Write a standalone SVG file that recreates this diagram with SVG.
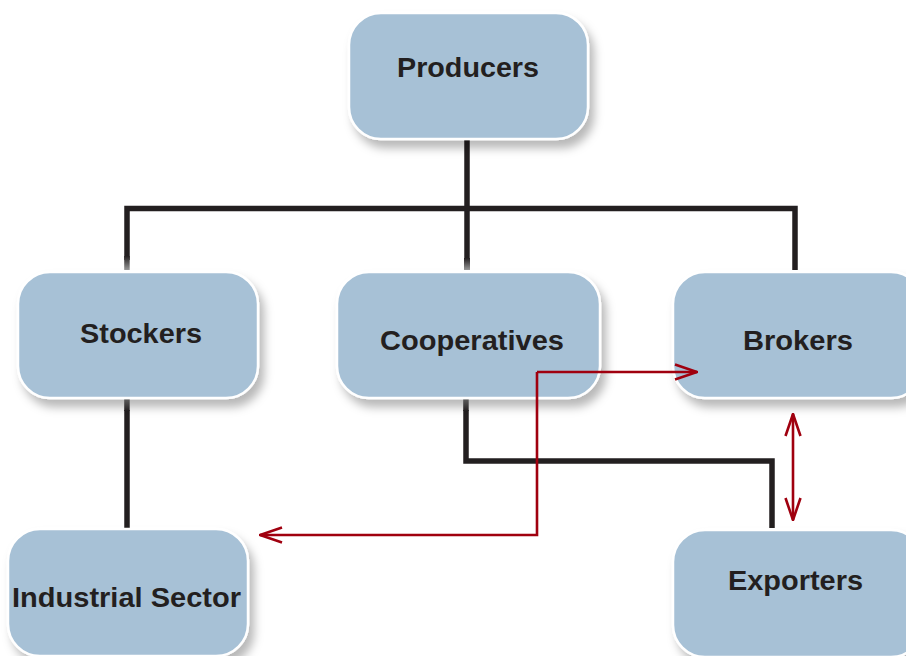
<svg xmlns="http://www.w3.org/2000/svg" width="906" height="656" viewBox="0 0 906 656">
  <defs>
    <filter id="shadow" x="-10%" y="-10%" width="130%" height="140%">
      <feDropShadow dx="5" dy="8" stdDeviation="5" flood-color="#000" flood-opacity="0.28"/>
    </filter>
    <marker id="open" viewBox="0 0 24 18" refX="23" refY="9" markerWidth="24" markerHeight="18" markerUnits="userSpaceOnUse" orient="auto-start-reverse">
      <path d="M1,1.5 L23,9 L1,16.5" fill="none" stroke="#a0000f" stroke-width="2.6"/>
    </marker>
    <linearGradient id="fadeDown" x1="0" y1="0" x2="0" y2="1">
      <stop offset="0" stop-color="#231f20"/>
      <stop offset="1" stop-color="#999"/>
    </linearGradient>
    <linearGradient id="fadeUp" x1="0" y1="1" x2="0" y2="0">
      <stop offset="0" stop-color="#231f20"/>
      <stop offset="1" stop-color="#888"/>
    </linearGradient>
  </defs>
  <style>
    .box { fill: #a7c1d6; stroke: #ffffff; stroke-width: 2.5; filter: url(#shadow); }
    .lbl { font-family: "Liberation Sans", Arial, Helvetica, sans-serif; font-weight: bold; font-size: 28px; fill: #231f20; }
    .blk { fill: none; stroke: #231f20; stroke-width: 5.5; stroke-linejoin: miter; stroke-linecap: butt; }
    .red { fill: none; stroke: #a0000f; stroke-width: 2.6; stroke-linejoin: miter; }
  </style>
  <rect width="906" height="656" fill="#ffffff"/>

  <g id="connectors">
    <path class="blk" d="M467,139 V260"/>
    <path class="blk" d="M127,260 V208.5 H795 V270"/>
    <rect x="464" y="258" width="6" height="12" fill="url(#fadeDown)"/>
    <rect x="124.2" y="256" width="5.5" height="14" fill="url(#fadeDown)"/>
    <path class="blk" d="M127,410 V528"/>
    <rect x="124.2" y="398" width="5.5" height="13" fill="url(#fadeUp)"/>
    <path class="blk" d="M466,410 V461 H772 V528"/>
    <rect x="463.2" y="398" width="5.5" height="13" fill="url(#fadeUp)"/>
  </g>

  <g id="producers">
    <rect class="box" x="349" y="13" width="239" height="126" rx="32"/>
    <text class="lbl" x="397" y="77" textLength="142" lengthAdjust="spacingAndGlyphs">Producers</text>
  </g>
  <g id="stockers">
    <rect class="box" x="18" y="272" width="240" height="126" rx="32"/>
    <text class="lbl" x="80" y="343" textLength="122" lengthAdjust="spacingAndGlyphs">Stockers</text>
  </g>
  <g id="cooperatives">
    <rect class="box" x="337" y="272" width="263" height="126" rx="32"/>
    <text class="lbl" x="380" y="350" textLength="184" lengthAdjust="spacingAndGlyphs">Cooperatives</text>
  </g>
  <g id="brokers">
    <rect class="box" x="673" y="272" width="250" height="126" rx="32"/>
    <text class="lbl" x="743" y="350" textLength="110" lengthAdjust="spacingAndGlyphs">Brokers</text>
  </g>
  <g id="industrial-sector">
    <rect class="box" x="8" y="529" width="240" height="127" rx="32"/>
    <text class="lbl" x="12" y="607" textLength="229" lengthAdjust="spacingAndGlyphs">Industrial Sector</text>
  </g>
  <g id="exporters">
    <rect class="box" x="673" y="530" width="250" height="127" rx="32"/>
    <text class="lbl" x="728" y="590" textLength="135" lengthAdjust="spacingAndGlyphs">Exporters</text>
  </g>

  <g id="flow-connectors">
    <path class="red" d="M537,372 H697" marker-end="url(#open)"/>
    <path class="red" d="M537,372 V535 H260" marker-end="url(#open)"/>
    <path class="red" d="M793,414 V520" marker-start="url(#open)" marker-end="url(#open)"/>
  </g>
</svg>
